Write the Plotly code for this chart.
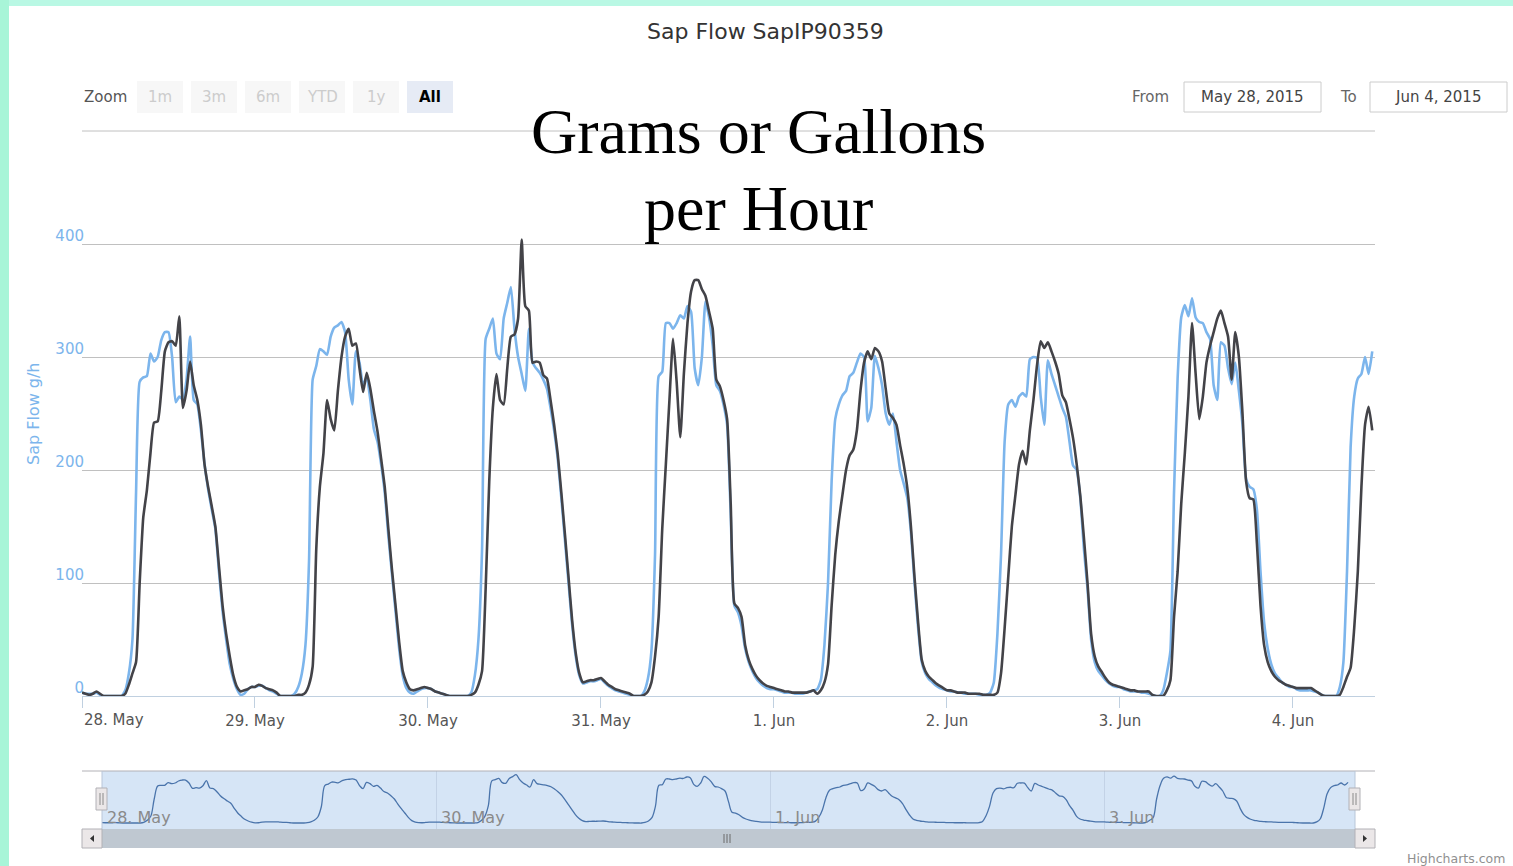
import pandas as pd
import plotly.graph_objects as go


# ── Dados: leituras a cada 30 min, de 28 May 2015 00:00 até 4 Jun 11:00 ─────

inicio = "2015-05-28 00:00"

sap_azul = [
    3, 2, 2, 2, 3, 1, 0, 0, 0, 0, 0, 0, 5, 20, 50, 180, 278, 282, 283, 303, 296, 300, 315, 322,
    322, 300, 260, 265, 262, 280, 318, 262, 258, 235, 205, 183, 165, 148, 110, 75, 50, 28, 15, 6, 1, 2, 6, 8,
    8, 9, 9, 7, 5, 4, 2, 0, 0, 0, 0, 2, 8, 20, 45, 120, 280, 292, 307, 305, 302, 318, 326, 328,
    331, 322, 280, 258, 305, 295, 275, 282, 262, 236, 225, 205, 180, 142, 108, 75, 42, 18, 7, 3, 2, 4, 6, 7,
    7, 6, 4, 3, 2, 1, 0, 0, 0, 0, 0, 0, 3, 18, 50, 130, 316, 325, 334, 303, 298, 334, 348, 362,
    325, 300, 285, 270, 325, 295, 290, 286, 280, 272, 255, 235, 210, 175, 138, 100, 63, 35, 18, 11, 12, 13, 13, 14,
    15, 12, 9, 7, 5, 4, 3, 2, 1, 0, 0, 0, 4, 15, 40, 125, 283, 287, 330, 330, 325, 330, 337, 334,
    345, 340, 290, 275, 300, 349, 335, 310, 275, 270, 258, 240, 160, 80, 74, 62, 42, 30, 22, 16, 12, 9, 7, 6,
    6, 5, 4, 3, 3, 3, 2, 2, 2, 3, 4, 5, 6, 14, 45, 100, 190, 245, 258, 266, 270, 283, 286, 295,
    303, 300, 243, 255, 301, 290, 275, 250, 240, 250, 225, 200, 188, 175, 145, 100, 60, 30, 20, 15, 12, 9, 7, 6,
    5, 4, 4, 3, 3, 2, 2, 2, 2, 1, 1, 1, 3, 12, 55, 125, 225, 258, 262, 256, 265, 268, 265, 298,
    300, 299, 265, 240, 297, 285, 275, 265, 255, 247, 225, 204, 200, 175, 130, 95, 50, 30, 22, 18, 14, 11, 9, 8,
    8, 6, 5, 4, 4, 4, 3, 3, 2, 1, 0, 0, 5, 20, 40, 180, 281, 335, 346, 336, 352, 335, 331, 330,
    322, 316, 275, 262, 313, 310, 290, 276, 295, 270, 240, 192, 185, 183, 165, 110, 65, 42, 28, 20, 16, 12, 10, 8,
    8, 6, 5, 5, 5, 5, 4, 3, 1, 0, 0, 0, 0, 8, 30, 110, 220, 265, 281, 285, 300, 285, 305,
]

sap_preto = [
    3, 2, 1, 2, 4, 2, 0, 0, 0, 0, 0, 0, 2, 10, 20, 30, 100, 158, 182, 215, 242, 243, 270, 305,
    313, 314, 310, 336, 255, 270, 296, 275, 262, 240, 205, 185, 168, 150, 115, 80, 55, 35, 18, 8, 4, 5, 6, 8,
    8, 10, 9, 7, 6, 5, 3, 0, 0, 0, 0, 0, 1, 1, 3, 10, 26, 130, 185, 215, 262, 245, 235, 270,
    300, 318, 325, 310, 312, 290, 269, 286, 272, 252, 234, 210, 185, 148, 112, 80, 48, 22, 12, 6, 5, 6, 7, 8,
    7, 6, 4, 3, 2, 1, 0, 0, 0, 0, 0, 0, 1, 3, 10, 22, 95, 190, 255, 285, 262, 258, 290, 318,
    320, 334, 404, 345, 341, 295, 296, 295, 284, 281, 262, 240, 214, 180, 143, 105, 67, 38, 20, 12, 13, 14, 14, 15,
    16, 13, 10, 8, 6, 5, 4, 3, 2, 0, 0, 0, 1, 4, 12, 35, 70, 148, 205, 262, 316, 278, 229, 285,
    330, 358, 368, 368, 360, 354, 340, 325, 280, 274, 262, 245, 170, 82, 78, 70, 45, 32, 24, 18, 14, 11, 9, 8,
    7, 6, 5, 4, 4, 3, 3, 3, 3, 3, 4, 5, 2, 5, 12, 28, 80, 125, 155, 178, 200, 213, 218, 235,
    270, 295, 305, 298, 308, 305, 296, 272, 250, 246, 240, 222, 205, 184, 150, 105, 65, 32, 22, 17, 14, 11, 9, 7,
    5, 5, 4, 3, 3, 3, 2, 2, 2, 2, 1, 1, 1, 1, 3, 20, 60, 105, 150, 178, 205, 217, 205, 235,
    262, 293, 314, 308, 313, 305, 296, 285, 266, 260, 245, 228, 205, 177, 140, 100, 55, 35, 26, 21, 16, 12, 10, 9,
    8, 7, 6, 5, 5, 4, 4, 4, 4, 1, 0, 0, 0, 5, 14, 70, 110, 170, 215, 265, 330, 285, 245, 265,
    295, 310, 322, 334, 341, 330, 318, 280, 322, 300, 250, 190, 175, 174, 135, 80, 45, 30, 22, 17, 14, 12, 10, 9,
    8, 7, 7, 7, 7, 7, 5, 3, 1, 0, 0, 0, 0, 1, 8, 17, 25, 60, 110, 185, 240, 256, 235,
]

dias = ["2015-05-28", "2015-05-29", "2015-05-30", "2015-05-31",
        "2015-06-01", "2015-06-02", "2015-06-03", "2015-06-04"]
dias_texto = ["28. May", "29. May", "30. May", "31. May",
              "1. Jun", "2. Jun", "3. Jun", "4. Jun"]
nav_dias = ["2015-05-28", "2015-05-30", "2015-06-01", "2015-06-03"]
nav_texto = ["28. May", "30. May", "1. Jun", "3. Jun"]
y_ticks = [0, 100, 200, 300, 400, 500]
y_texto = ["0", "100", "200", "300", "400", ""]
botoes = ["1m", "3m", "6m", "YTD", "1y", "All"]

tempo = pd.date_range(inicio, periods=len(sap_azul), freq="30min")

# ── Geometria da página (pixels -> coordenadas paper) ────────────────────────

W, H = 1513, 866
L, R, T, B = 82, 1375, 131, 848
FONTE = "DejaVu Sans"


def px(x):
    return (x - L) / (R - L)


def py(y):
    return (B - y) / (B - T)


def caixa(x0, y0, x1, y1, fill, line=None, layer="below"):
    return dict(type="rect", xref="paper", yref="paper",
                x0=px(x0), x1=px(x1), y0=py(y1), y1=py(y0),
                fillcolor=fill, layer=layer,
                line=dict(color=line or fill, width=1 if line else 0))


def linha(x0, y0, x1, y1, cor, largura=1, layer="above"):
    return dict(type="line", xref="paper", yref="paper",
                x0=px(x0), x1=px(x1), y0=py(y0), y1=py(y1),
                line=dict(color=cor, width=largura), layer=layer)


def texto(x, y, s, size=15, cor="#555555", xanchor="center", family=FONTE, **kw):
    return dict(xref="paper", yref="paper", x=px(x), y=py(y), text=s,
                showarrow=False, xanchor=xanchor, yanchor="middle",
                font=dict(family=family, size=size, color=cor), **kw)


# ── Figura ───────────────────────────────────────────────────────────────────

fig = go.Figure()
fig.add_trace(go.Scatter(x=tempo, y=sap_azul, mode="lines", name="SapIP90359 A",
                         line=dict(color="#7cb5ec", width=2.6, shape="spline", smoothing=0.5)))
fig.add_trace(go.Scatter(x=tempo, y=sap_preto, mode="lines", name="SapIP90359 B",
                         line=dict(color="#434348", width=2.6, shape="spline", smoothing=0.5)))
# navegador
fig.add_trace(go.Scatter(x=tempo, y=sap_azul, mode="lines", xaxis="x2", yaxis="y2",
                         line=dict(color="#4a74ab", width=1.3, shape="spline")))

shapes = [
    caixa(0, 0, W, 6, "#b9f8e4"),
    caixa(0, 0, 9, H, "#a8f5d8"),
    linha(82, 131, 1375, 131, "#c0c0c0", layer="below"),
    # navegador
    caixa(102, 771, 1355, 829, "#d6e5f6"),
    linha(82, 771, 1375, 771, "#b2b1b6"),
    linha(102, 771, 102, 829, "#b9c6d8"),
    linha(1355, 771, 1355, 829, "#b9c6d8"),
    # barra de rolagem
    caixa(102, 829, 1355, 848, "#bfc8d1"),
    caixa(82, 829, 102, 848, "#ebe7e8", "#b2b1b6", layer="above"),
    caixa(1355, 829, 1375, 848, "#ebe7e8", "#b2b1b6", layer="above"),
    dict(type="path", xref="paper", yref="paper", layer="above",
         path=f"M {px(94)} {py(835)} L {px(90)} {py(838.5)} L {px(94)} {py(842)} Z",
         fillcolor="#333333", line=dict(width=0)),
    dict(type="path", xref="paper", yref="paper", layer="above",
         path=f"M {px(1363)} {py(835)} L {px(1367)} {py(838.5)} L {px(1363)} {py(842)} Z",
         fillcolor="#333333", line=dict(width=0)),
]
for gx in (724, 727, 730):
    shapes.append(linha(gx, 834, gx, 843, "#6b6b6b"))
for hx in (101.5, 1354.5):
    shapes.append(caixa(hx - 5.5, 788, hx + 5.5, 810, "#ebe7e8", "#b2b1b6", layer="above"))
    shapes.append(linha(hx - 1.5, 793, hx - 1.5, 805, "#8a8a8a"))
    shapes.append(linha(hx + 1.5, 793, hx + 1.5, 805, "#8a8a8a"))

anotacoes = [
    texto(765, 32, "Sap Flow SapIP90359", size=22, cor="#333333"),
    texto(758, 131, "Grams or Gallons", size=64, cor="#000000", family="Liberation Serif"),
    texto(758, 209, "per Hour", size=64, cor="#000000", family="Liberation Serif"),
    texto(33, 413, "Sap Flow g/h", size=16, cor="#7cb5ec", textangle=-90),
    texto(82, 720, dias_texto[0], xanchor="left"),
    texto(82, 97, "Zoom", xanchor="left"),
    texto(1171, 97, "From", cor="#666666", xanchor="right"),
    texto(1359, 97, "To", cor="#666666", xanchor="right"),
    texto(1252, 97, "May 28, 2015", cor="#444444"),
    texto(1438, 97, "Jun 4, 2015", cor="#444444"),
    texto(1507, 858, "Highcharts.com", size=12.5, cor="#909090", xanchor="right"),
]

# rótulos do eixo do navegador, posicionados pela escala de x2
for d, s in zip(nav_dias, nav_texto):
    anotacoes.append(dict(xref="x2", yref="paper", x=d, y=py(817), text=s,
                          showarrow=False, xanchor="left", yanchor="middle", xshift=3,
                          font=dict(family=FONTE, size=16, color="#8a8a8a")))

# botões do seletor de intervalo
for i, b in enumerate(botoes):
    x0 = 137 + 54 * i
    ativo = b == "All"
    shapes.append(caixa(x0, 81, x0 + 46, 113, "#e6ebf5" if ativo else "#f7f7f7"))
    anotacoes.append(texto(x0 + 23, 97, f"<b>{b}</b>" if ativo else b,
                           cor="#000000" if ativo else "#cccccc"))

# caixas de data
shapes.append(caixa(1184, 82, 1321, 112, "#ffffff", "#cccccc"))
shapes.append(caixa(1370, 82, 1507, 112, "#ffffff", "#cccccc"))

fig.update_layout(
    width=W, height=H,
    margin=dict(l=L, r=W - R, t=T, b=H - B),
    paper_bgcolor="#ffffff",
    plot_bgcolor="rgba(0,0,0,0)",
    showlegend=False,
    shapes=shapes,
    annotations=anotacoes,
    xaxis=dict(
        domain=[0, 1], anchor="y",
        range=[pd.Timestamp("2015-05-28 00:00"), pd.Timestamp("2015-06-04 11:23")],
        tickvals=dias, ticktext=[""] + dias_texto[1:],
        ticks="outside", ticklen=11, tickcolor="#c0d0e0", tickwidth=1,
        ticklabelstandoff=0,
        showline=True, linecolor="#c0d0e0", linewidth=1,
        showgrid=False, zeroline=False,
        tickfont=dict(family=FONTE, size=15, color="#555555"),
    ),
    yaxis=dict(
        domain=[py(696), 1], anchor="x",
        range=[0, 500],
        tickvals=y_ticks, ticktext=y_texto,
        showgrid=True, gridcolor="#c0c0c0", gridwidth=1,
        zeroline=False, showline=False, ticks="",
        ticklabelshift=-8, ticklabelstandoff=-3,
        tickfont=dict(family=FONTE, size=15, color="#7cb5ec"),
    ),
    xaxis2=dict(
        domain=[px(102), px(1355)], anchor="y2",
        range=[pd.Timestamp("2015-05-28 00:00"), pd.Timestamp("2015-06-04 12:00")],
        tickvals=nav_dias, showticklabels=False, ticks="",
        showgrid=True, gridcolor="#c3d2e6", gridwidth=1,
        showline=False, zeroline=False,
    ),
    yaxis2=dict(
        domain=[py(829), py(771)], anchor="x2",
        range=[-45, 390],
        showgrid=False, zeroline=False, showticklabels=False, showline=False,
    ),
)

fig.write_html("out.html", config={"displayModeBar": False},
               post_script="document.body.style.margin = '0';")
